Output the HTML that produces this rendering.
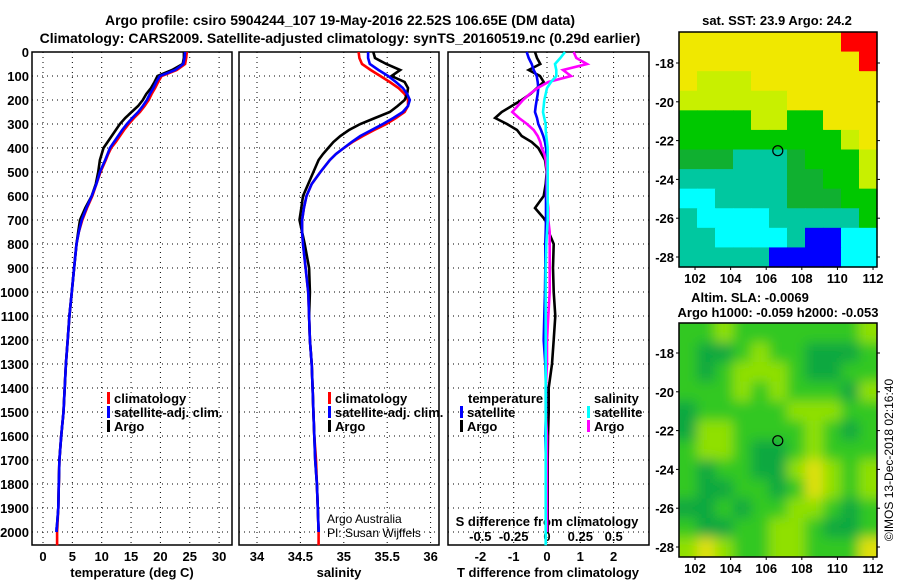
<!DOCTYPE html>
<html><head><meta charset="utf-8"><style>
body{margin:0;background:#fff;}
svg{display:block;font-family:"Liberation Sans",sans-serif;}
.b{font-weight:bold;font-size:13px;}
</style></head><body>
<svg id="c" width="900" height="580" viewBox="0 0 900 580">
<text x="340" y="25" text-anchor="middle" style="font-weight:bold;font-size:14px">Argo profile: csiro 5904244_107 19-May-2016 22.52S 106.65E (DM data)</text>
<text x="340" y="43" text-anchor="middle" style="font-weight:bold;font-size:14px">Climatology: CARS2009. Satellite-adjusted climatology: synTS_20160519.nc (0.29d earlier)</text>
<text x="777" y="25" text-anchor="middle" class="b">sat. SST: 23.9 Argo: 24.2</text>
<text x="750" y="302" text-anchor="middle" class="b">Altim. SLA: -0.0069</text>
<text x="778" y="317" text-anchor="middle" class="b">Argo h1000: -0.059 h2000: -0.053</text>
<text transform="translate(893,460) rotate(-90)" text-anchor="middle" style="font-size:12px">©IMOS 13-Dec-2018 02:16:40</text>
<g id="g"></g>
</svg>
<script>
const depths=[0,25,50,75,100,125,150,175,200,225,250,275,300,325,350,375,400,425,450,500,550,600,650,700,750,800,900,1000,1100,1200,1300,1400,1500,1600,1700,1800,1900,2000];
const tempSat=[24.2,24.1,23.9,22.5,19.9,19.3,18.8,18.2,17.7,17.0,16.2,15.2,14.3,13.5,12.8,12.1,11.4,11.0,10.6,9.7,9.1,8.3,7.4,6.6,6.1,5.7,5.3,4.9,4.5,4.2,3.9,3.7,3.5,3.1,2.8,2.7,2.6,2.3];
const tempClim=[24.5,24.4,24.2,22.8,20.2,19.6,19.1,18.5,18.0,17.3,16.5,15.5,14.6,13.8,13.1,12.4,11.6,11.1,10.7,9.8,9.1,8.4,7.5,6.7,6.1,5.7,5.3,4.9,4.5,4.2,3.9,3.7,3.5,3.1,2.8,2.7,2.6,2.4];
const tempArgo=[24.0,24.0,23.8,22.0,19.5,19.0,18.4,17.6,17.0,16.2,15.1,14.0,13.1,12.4,11.7,11.0,10.3,10.0,9.7,9.4,9.0,8.3,7.2,6.3,6.0,5.7,5.3,4.9,4.5,4.2,3.9,3.7,3.5,3.1,2.8,2.7,2.6,2.3];
const salSat=[35.28,35.28,35.30,35.40,35.51,35.60,35.68,35.73,35.76,35.74,35.68,35.57,35.45,35.32,35.19,35.09,35.0,34.91,34.84,34.73,34.63,34.57,34.54,34.52,34.52,34.53,34.56,34.59,34.60,34.61,34.63,34.64,34.65,34.66,34.67,34.69,34.70,34.71];
const salClim=[35.17,35.18,35.21,35.31,35.42,35.53,35.63,35.70,35.74,35.74,35.70,35.60,35.49,35.35,35.22,35.10,35.0,34.91,34.84,34.73,34.63,34.57,34.54,34.52,34.52,34.53,34.56,34.59,34.60,34.61,34.63,34.64,34.65,34.66,34.68,34.69,34.70,34.71];
const salArgo=[35.34,35.36,35.49,35.65,35.55,35.70,35.74,35.73,35.70,35.62,35.53,35.36,35.19,35.06,34.96,34.88,34.82,34.76,34.71,34.65,34.59,34.53,34.51,34.49,34.52,34.55,34.60,34.61,34.60,34.61,34.63,34.64,34.65,34.66,34.67,34.69,34.70,34.71];
const dTsat=[-0.61,-0.55,-0.46,-0.40,-0.31,-0.28,-0.26,-0.28,-0.31,-0.34,-0.36,-0.30,-0.26,-0.18,-0.11,-0.06,-0.03,-0.02,-0.02,0,-0.02,-0.03,-0.03,-0.03,-0.04,-0.05,-0.05,-0.06,-0.08,-0.1,-0.05,-0.03,-0.03,-0.05,-0.03,-0.03,-0.03,-0.03];
const dTargo=[-0.36,-0.30,-0.20,-0.55,-0.21,-0.10,-0.30,-0.50,-0.76,-1.06,-1.36,-1.56,-1.20,-0.90,-0.76,-0.46,-0.26,-0.16,-0.06,-0.01,-0.04,-0.10,-0.36,-0.05,0.05,0.20,0.18,0.2,0.25,0.2,0.15,0.05,0.05,0.03,0.02,0.02,0.02,0.02];
const dSsat=[0.135,0.10,0.06,0.07,0.07,0.03,0.0,-0.01,-0.02,-0.025,-0.03,-0.02,-0.01,-0.01,-0.005,0.0,0.005,0.005,0.005,0.005,0.005,0.005,0.005,0.005,0.0,-0.005,-0.01,-0.01,-0.01,-0.01,-0.01,-0.01,-0.01,-0.01,-0.01,-0.01,-0.01,-0.01];
const dSargo=[0.2,0.22,0.3,0.12,0.18,0.01,-0.07,-0.13,-0.18,-0.22,-0.26,-0.21,-0.15,-0.10,-0.07,-0.05,-0.04,-0.02,-0.01,0.0,0.0,0.0,0.01,0.01,0.02,0.02,0.02,0.02,0.01,0.0,0.0,-0.01,-0.01,0.0,0.0,0.0,0.0,0.0];
const depthTicks=[0,100,200,300,400,500,600,700,800,900,1000,1100,1200,1300,1400,1500,1600,1700,1800,1900,2000];
const tempTicks=[0,5,10,15,20,25,30];
const salTicks=[34,34.5,35,35.5,36];
const dTTicks=[-2,-1,0,1,2];
const dSTicks=[-0.5,-0.25,0,0.25,0.5];
const latTicks=[-18,-20,-22,-24,-26,-28];
const lonTicks=[102,104,106,108,110,112];
const sstGrid=["YYYYYYYYYRR","YYYYYYYYYYR","YLLLYYYYYYY","LLLLLLYYYYY","GGGGLLGGYYY","GGGGGGGGGLY","DDDTTTDGGGL","TTTTTTDDGGL","CCTTTTDDDGG","TCCCCTTTTTG","TTCCCCTBBCC","TTTTTBBBBCC"];
const slaGrid=["GGLGGGGGGGL","GDDGLGGDDDG","GDGLLLGDDGG","GGGLGLGGGDL","DGGGGGLLLGG","DLLGGGGLGDG","GLLGDDGLGGG","GDGGDDLYLGL","GDDGGDGYLGL","DDGDGGLLGDG","GDDGGLLGDDG","LYLGGLLGGGY"];
const sstCol={Y:"#f0e800",R:"#ff0000",L:"#c8f000",G:"#00c800",D:"#10b030",T:"#00c8a0",C:"#00ffff",B:"#0000ff"};
const slaCol={G:"#30c820",D:"#10a840",L:"#90e000",Y:"#e0e010"};
const NS="http://www.w3.org/2000/svg";
const g=document.getElementById('g');
function el(t,a,p){const e=document.createElementNS(NS,t);for(const k in a)e.setAttribute(k,a[k]);(p||g).appendChild(e);return e;}
const yD=d=>52+d*0.24;
const xT=t=>43+t*5.87, xS=s=>257+(s-34)*86.8, xDT=d=>547+d*33.3, xDS=s=>547+s*133.3;
const panels=[[32,232,xT,tempTicks,"temperature-panel"],[239,439,xS,salTicks,"salinity-panel"],[448,649,xDT,dTTicks,"difference-panel"]];
panels.forEach(p=>{
  const [x0,x1,sx,ticks,name]=p;
  depthTicks.forEach(d=>{const l=el('line',{x1:x0,x2:x1,y1:yD(d),y2:yD(d),stroke:'#000','stroke-width':1,'stroke-dasharray':'1,4'});
    
    });
  ticks.forEach(t=>{const l=el('line',{x1:sx(t),x2:sx(t),y1:52,y2:545,stroke:'#000','stroke-width':1,'stroke-dasharray':'1,4'});
    
    });
  const r=el('rect',{x:x0,y:52,width:x1-x0,height:493,fill:'none',stroke:'#000','stroke-width':1.5});
  
  
});
depthTicks.forEach(d=>{const t=el('text',{x:29,y:yD(d)+5,'text-anchor':'end',class:'b'});t.textContent=d;
  
  });
function ticklabels(arr,sx,y,name){arr.forEach(v=>{const t=el('text',{x:sx(v),y:y,'text-anchor':'middle',class:'b'});t.textContent=String(v).replace('0.','.').replace('-.','-0.').replace(/^\.(\d)$/,'0.$1');
  if(name==='s-diff-tick-label')t.textContent=String(v);
  
  });}
ticklabels(tempTicks,xT,561,'temperature-tick-label');
ticklabels(salTicks,xS,561,'salinity-tick-label');
ticklabels(dTTicks,xDT,561,'t-diff-tick-label');
ticklabels(dSTicks,xDS,541,'s-diff-tick-label');
[[132,'temperature (deg C)','x-axis-title-temperature'],[339,'salinity','x-axis-title-salinity'],[548,'T difference from climatology','x-axis-title-t-diff'],[547,'S difference from climatology','x-axis-title-s-diff']].forEach((a,i)=>{
  const t=el('text',{x:a[0],y:i==3?526:577,'text-anchor':'middle',class:'b'});t.textContent=a[1];
  
  });
function prof(vals,sx,col,name,maxD){
  let pts=[];vals.forEach((v,i)=>{pts.push(sx(v).toFixed(1)+','+yD(depths[i]).toFixed(1));});
  if(maxD)pts.push(sx(vals[vals.length-1]).toFixed(1)+','+yD(maxD).toFixed(1));
  const l=el('polyline',{points:pts.join(' '),fill:'none',stroke:col,'stroke-width':2.6,'stroke-linejoin':'miter'});
  
  }
prof(tempClim,xT,'#f00','temperature-climatology-line',2055);
prof(tempArgo,xT,'#000','temperature-argo-line');
prof(tempSat,xT,'#00f','temperature-satellite-line',1980);
prof(salClim,xS,'#f00','salinity-climatology-line',2055);
prof(salArgo,xS,'#000','salinity-argo-line');
prof(salSat,xS,'#00f','salinity-satellite-line',1980);
prof(dTargo,xDT,'#000','t-diff-argo-line');
prof(dTsat,xDT,'#00f','t-diff-satellite-line');
prof(dSargo,xDS,'#f0f','s-diff-argo-line');
prof(dSsat,xDS,'#0ff','s-diff-satellite-line',2055);
function legend(x,y,col,label,name){
  const m=el('rect',{x:x,y:y-11,width:3,height:12,fill:col});
  
  
  const t=el('text',{x:x+7,y:y,class:'b'});t.textContent=label;
  
  }
legend(107,403,'#f00','climatology','legend-climatology');
legend(107,417,'#00f','satellite-adj. clim.','legend-satellite');
legend(107,431,'#000','Argo','legend-argo');
legend(328,403,'#f00','climatology','legend-sal-climatology');
legend(328,417,'#00f','satellite-adj. clim.','legend-sal-satellite');
legend(328,431,'#000','Argo','legend-sal-argo');
legend(460,417,'#00f','satellite','legend-t-satellite');
legend(460,431,'#000','Argo','legend-t-argo');
legend(587,417,'#0ff','satellite','legend-s-satellite');
legend(587,431,'#f0f','Argo','legend-s-argo');
[[468,'temperature','legend-temperature-heading'],[594,'salinity','legend-salinity-heading']].forEach(a=>{const t=el('text',{x:a[0],y:403,class:'b'});t.textContent=a[1];
  
  });
[['Argo Australia',523,'credit-argo-australia'],['PI: Susan Wijffels',537,'credit-pi']].forEach(a=>{const t=el('text',{x:327,y:a[1],style:'font-size:12px'});t.textContent=a[0];
  
  });
// maps
const xL=lon=>679+(lon-101.1)*17.8;
const defs=el('defs',{});
const f=el('filter',{id:'bl',x:'-5%',y:'-5%',width:'110%',height:'110%'},defs);el('feGaussianBlur',{stdDeviation:6},f);
const cp=el('clipPath',{id:'cp2'},defs);el('rect',{x:679,y:323,width:198,height:234},cp);
function map(grid,cols,top,bot,latZero,name,blur){
  const gg=el('g',blur?{'clip-path':'url(#cp2)'}:{});
  const inner=el('g',blur?{filter:'url(#bl)'}:{},gg);
  const nr=grid.length,nc=grid[0].length,cw=198/nc,ch=(bot-top)/nr;
  grid.forEach((row,r)=>{[...row].forEach((c,k)=>{
    const pad=blur?12:0;
    const x=679+k*cw-(k==0?pad:0),y=top+r*ch-(r==0?pad:0);
    const cell=el('rect',{x:x,y:y,width:cw+0.6+(k==0||k==nc-1?pad:0),height:ch+0.6+(r==0||r==nr-1?pad:0),fill:cols[c]},inner);
    
    });});
  const yl=lat=>latZero+(-18-lat)*19.4;
  const fr=el('rect',{x:679,y:top,width:198,height:bot-top,fill:'none',stroke:'#000','stroke-width':1.5});
  
  
  latTicks.forEach(v=>{el('line',{x1:676,x2:679,y1:yl(v),y2:yl(v),stroke:'#000'});el('line',{x1:877,x2:880,y1:yl(v),y2:yl(v),stroke:'#000'});
    const t=el('text',{x:674,y:yl(v)+5,'text-anchor':'end',class:'b'});t.textContent=v;
    
    });
  lonTicks.forEach(v=>{el('line',{x1:xL(v),x2:xL(v),y1:bot,y2:bot+3,stroke:'#000'});
    const t=el('text',{x:xL(v),y:bot+16,'text-anchor':'middle',class:'b'});t.textContent=v;
    
    });
  const c=el('circle',{cx:xL(106.65),cy:yl(-22.52),r:5,fill:'none',stroke:'#000','stroke-width':1.2});
  
  
}
map(sstGrid,sstCol,32,267,63,'sst-map',false);
map(slaGrid,slaCol,323,557,353,'sla-map',true);
</script>
</body></html>
